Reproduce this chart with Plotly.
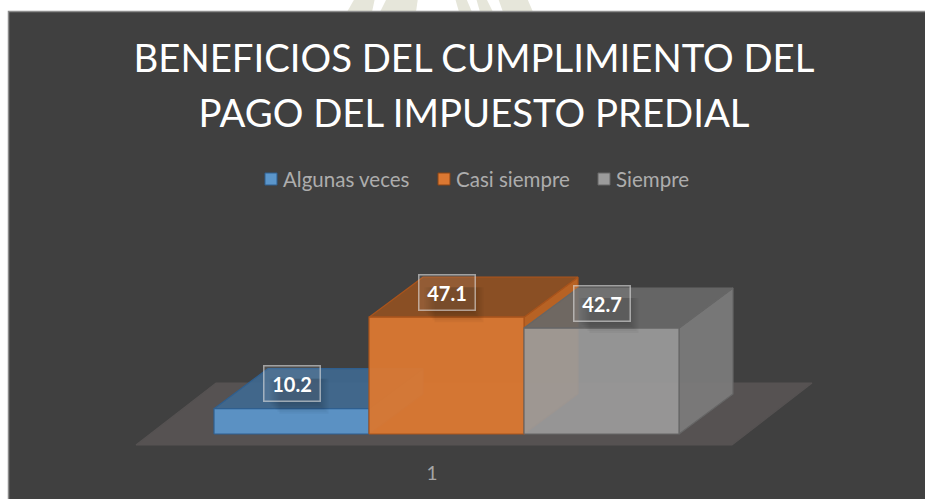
import plotly.graph_objects as go

# data
series_names = ['Algunas veces', 'Casi siempre', 'Siempre']
series_values = [10.2, 47.1, 42.7]
category_labels = ['1']

title_lines = ['BENEFICIOS DEL CUMPLIMIENTO DEL', 'PAGO DEL IMPUESTO PREDIAL']

# styles: front, top, side, outline
bar_styles = [
    dict(front='rgba(91,150,203,0.93)', top='rgba(63,104,143,0.93)', side='rgba(72,120,165,0.93)', edge='#2f5f8f'),
    dict(front='rgba(219,120,50,0.95)', top='rgba(142,80,35,0.95)', side='rgba(190,100,35,0.95)', edge='#a9541c'),
    dict(front='rgba(155,155,155,0.92)', top='rgba(104,104,104,0.92)', side='rgba(124,124,124,0.92)', edge='#666666'),
]
legend_colors = ['#5b96cb', '#db7832', '#9b9b9b']
legend_edges = ['#2f5f8f', '#8a4515', '#666666']

# faint page watermark that shows above the panel: x at top, x at bottom (two edges)
watermark_strokes = [(355, 375, 347, 372), (387, 418, 380, 416), (455, 466, 459, 472), (476, 486, 480, 493), (498, 527, 503, 533)]

W, H = 925, 499
PLOT_H = 460           # plot area height, the x axis sits on its bottom edge
PX_PER_UNIT = 2.48     # y pixels for one percent
BAR_W = 155            # x pixels for one bar
BASE_Y = 434           # pixel row of the zero line
X0 = 214               # pixel col of the first bar
DEPTH_X = 54 / BAR_W
DEPTH_Y = 40 / PX_PER_UNIT


def px(x):
    return x / W


def py(y):
    return (PLOT_H - y) / PLOT_H


fig = go.Figure()


def add_face(xs, ys, color, edge):
    fig.add_trace(go.Scatter(
        x=xs + xs[:1], y=ys + ys[:1], mode='lines', fill='toself', fillcolor=color,
        line=dict(color=edge, width=1.2), hoverinfo='skip', showlegend=False,
    ))


# floor
fl_dx = 80 / BAR_W
fl_dy = 62 / PX_PER_UNIT
fl_left = (136 - X0) / BAR_W
fl_right = (732 - X0) / BAR_W
fl_front = -11 / PX_PER_UNIT
add_face([fl_left, fl_right, fl_right + fl_dx, fl_left + fl_dx],
         [fl_front, fl_front, fl_front + fl_dy, fl_front + fl_dy],
         '#565252', '#565252')

for i, v in enumerate(series_values):
    st = bar_styles[i]
    add_face([i + 1, i + 1 + DEPTH_X, i + 1 + DEPTH_X, i + 1], [0, DEPTH_Y, v + DEPTH_Y, v], st['side'], st['edge'])
    add_face([i, i + 1, i + 1 + DEPTH_X, i + DEPTH_X], [v, v, v + DEPTH_Y, v + DEPTH_Y], st['top'], st['edge'])
    add_face([i, i + 1, i + 1, i], [0, 0, v, v], st['front'], st['edge'])

# data labels with a soft shadow behind them
for i, v in enumerate(series_values):
    for grow in (0, 2, 4, 6, 8, 10):
        fig.add_shape(type='rect', xref='x', yref='y',
                      x0=i + 0.5 - (22 - grow) / BAR_W, x1=i + 0.5 + (27 + grow) / BAR_W,
                      y0=v + (5 - grow) / PX_PER_UNIT, y1=v + 30 / PX_PER_UNIT,
                      fillcolor='rgba(0,0,0,0.035)', line_width=0, layer='above')
    fig.add_annotation(
        x=i + 0.5, y=v, yshift=25, text=f'<b>{v}</b>', showarrow=False,
        font=dict(family='Lato', size=20, color='white'),
        bgcolor='rgba(255,255,255,0.08)', bordercolor='rgba(225,225,225,0.6)', borderwidth=1.5,
        width=53, height=32, align='center', valign='middle',
    )

# legend
legend_x = [265, 438, 598]
legend_y = 179
for name, x, c, e in zip(series_names, legend_x, legend_colors, legend_edges):
    fig.add_shape(type='rect', xref='paper', yref='paper',
                  x0=px(x), x1=px(x + 12), y0=py(legend_y + 6), y1=py(legend_y - 6),
                  fillcolor=c, line=dict(color=e, width=1))
    fig.add_annotation(xref='paper', yref='paper', x=px(x + 16), y=py(legend_y), text=name,
                       xanchor='left', yanchor='middle', showarrow=False,
                       font=dict(family='Lato', size=20.5, color='#adadad'))

# white page strip with the dark chart panel and its thin border
for t0, t1, b0, b1 in watermark_strokes:
    fig.add_shape(type='path', xref='paper', yref='paper', layer='below',
                  path=f'M{px(t0)},{py(-2)} L{px(t1)},{py(-2)} L{px(b1)},{py(12)} L{px(b0)},{py(12)} Z',
                  fillcolor='#e6e6da', line_width=0)
fig.add_shape(type='rect', xref='paper', yref='paper', x0=px(8.5), x1=px(W + 5), y0=py(H + 5), y1=py(11.5),
              fillcolor='#404040', line=dict(color='#8c8c8c', width=1.5), layer='below')

fig.update_layout(
    width=W, height=H,
    margin=dict(l=0, r=0, t=0, b=H - PLOT_H),
    paper_bgcolor='white',
    plot_bgcolor='rgba(0,0,0,0)',
    showlegend=False,
    # outer size sets the line spacing, inner span the glyph size
    title=dict(text='<br>'.join(f'<span style="font-size:38.3px">{t}</span>' for t in title_lines),
               x=474 / W, xanchor='center', y=1 - 72 / H, yanchor='middle',
               font=dict(family='Lato', size=42, color='white')),
)
fig.update_xaxes(
    range=[-X0 / BAR_W, (W - X0) / BAR_W], showgrid=False, zeroline=False, showline=False,
    tickmode='array', tickvals=[(432 - X0) / BAR_W], ticktext=category_labels, ticks='',
    tickfont=dict(family='Lato', size=19, color='#a6a6a6'),
)
fig.update_yaxes(
    range=[-(PLOT_H - BASE_Y) / PX_PER_UNIT, BASE_Y / PX_PER_UNIT], showgrid=False, zeroline=False,
    showline=False, showticklabels=False,
)

fig.write_html('out.html', config=dict(displayModeBar=False), post_script="document.body.style.margin='0';")
